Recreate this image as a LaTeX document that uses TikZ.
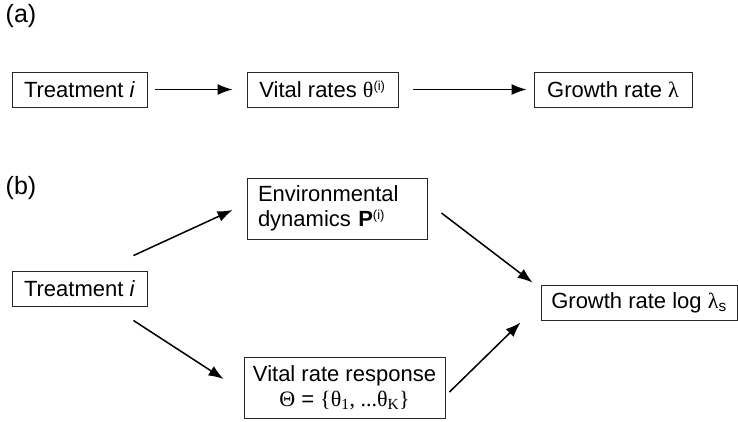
\documentclass[tikz,border=0pt]{standalone}
\usepackage{fontspec}
\setmainfont{Liberation Sans}
\newfontfamily\grk{Liberation Serif}
\usetikzlibrary{positioning}
\usetikzlibrary{arrows.meta}

\newcommand{\upi}{\textsuperscript{\fontsize{13}{13}\selectfont(i)}}

\tikzset{
  box/.style={draw=black!85, line width=0.9pt, minimum height=35pt, inner sep=4pt,
    font=\fontsize{22}{25}\selectfont},
  arr/.style={-{Latex[length=15pt,width=11pt]}, line width=1.5pt},
  panel/.style={font=\fontsize{25}{27}\selectfont}
}

\begin{document}
\begin{tikzpicture}[x=1pt,y=-1pt]
  \useasboundingbox (0,0) rectangle (738,421);
  \node[panel] (pa) at (21,16) {(a)};
  \node[panel] (pb) at (21,188) {(b)};

  \node[box, minimum width=135pt] (treatA) at (79.5,89.5) {Treatment \textit{i}};
  \node[box, minimum width=151pt] (vital) at (322.5,89.5) {Vital rates {\grk θ}\upi};
  \node[box, minimum width=158pt] (growth) at (613,89.5) {Growth rate {\grk λ}};
  \draw[arr, shorten <=8pt, shorten >=14pt] (treatA) -- (vital);
  \draw[arr, shorten <=15pt, shorten >=7pt] (vital) -- (growth);

  \node[box, minimum width=180pt, minimum height=61pt, align=left, text width=158pt]
    (env) at (337,208.5) {Environmental\\dynamics \textbf{P}\upi};
  \node[box, minimum width=135pt] (treatB) at (79.5,288.5) {Treatment \textit{i}};
  \node[box, minimum width=196pt] (logg) at (639,302.5) {Growth rate log {\grk λ}\textsubscript{s}};
  \node[box, minimum width=201pt, minimum height=61pt, align=center]
    (resp) at (344.5,387.5) {Vital rate response\\{\grk Θ} = {\grk\{θ\textsubscript{1}, ...θ\textsubscript{K}\}}};

  \draw[arr] ([xshift=-14pt,yshift=15pt]treatB.north east) -- ([xshift=-14pt,yshift=-1.5pt]env.west);
  \draw[arr] ([xshift=14pt,yshift=-4.5pt]env.east) -- ([xshift=-8pt,yshift=2pt]logg.north west);
  \draw[arr] ([xshift=-14pt,yshift=-14pt]treatB.south east) -- ([xshift=-20pt,yshift=8.5pt]resp.west);
  \draw[arr] ([xshift=4pt,yshift=-4.5pt]resp.east) -- ([xshift=-20pt,yshift=-2pt]logg.south west);
\end{tikzpicture}
\end{document}
